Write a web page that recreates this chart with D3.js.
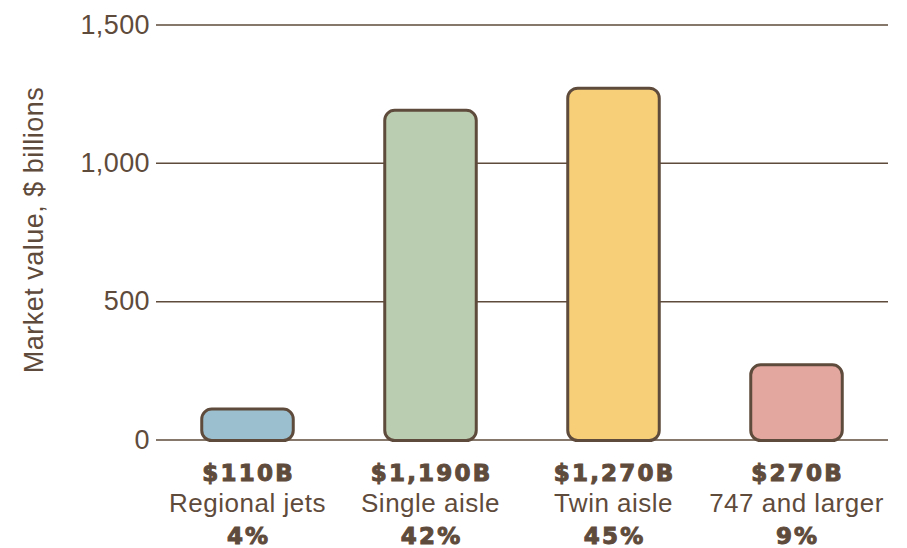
<!DOCTYPE html>
<html>
<head>
<meta charset="utf-8">
<script src="https://cdn.jsdelivr.net/npm/d3@7"></script>
<style>
  body { margin: 0; background: #fff; }
  svg { display: block; font-family: "Liberation Sans", Arial, Helvetica, sans-serif; }
</style>
</head>
<body>
<svg id="chart"></svg>
<script>
// chart data
const categories = ["Regional jets", "Single aisle", "Twin aisle", "747 and larger"];
const values = [110, 1190, 1270, 270];
const valueLabels = ["$110B", "$1,190B", "$1,270B", "$270B"];
const shares = ["4%", "42%", "45%", "9%"];
const colors = ["#9bbfcf", "#bbcdb0", "#f7cf79", "#e3a7a0"];
const yTicks = [0, 500, 1000, 1500];

const ink = "#5f4b3b";

document.addEventListener("DOMContentLoaded", function () {
  drawChart();
});

function drawChart() {
  const w = 907;
  const h = 548;
  const left = 156, right = 888, top = 24.5, bottom = 439.5;

  const svg = d3.select("#chart").attr("width", w).attr("height", h);

  const x = d3.scaleBand()
    .domain(categories)
    .range([left, right])
    .paddingInner(0.5)
    .paddingOuter(0.25);

  const y = d3.scaleLinear().domain([0, 1500]).range([bottom, top]);

  // gridlines + tick labels
  const yAxis = d3.axisLeft(y)
    .tickValues(yTicks)
    .tickSize(-(right - left))
    .tickPadding(6)
    .tickFormat(d3.format(","));

  const g = svg.append("g")
    .attr("transform", "translate(" + left + ",0)")
    .call(yAxis);
  g.select(".domain").remove();
  g.selectAll(".tick line").attr("stroke", ink).attr("stroke-width", 1.5);
  g.selectAll(".tick text")
    .attr("fill", ink)
    .attr("font-size", 27)
    .attr("letter-spacing", 0.4)
    .attr("font-family", "Liberation Sans, Arial, sans-serif");

  // axis title
  svg.append("text")
    .attr("transform", "translate(43," + 230 + ") rotate(-90)")
    .attr("text-anchor", "middle")
    .attr("fill", ink)
    .attr("font-size", 27)
    .attr("letter-spacing", 0.5)
    .text("Market value, $ billions");

  // bars (rounded)
  svg.selectAll("rect.bar")
    .data(values)
    .enter()
    .append("rect")
    .attr("class", "bar")
    .attr("x", (d, i) => x(categories[i]))
    .attr("y", (d) => y(d))
    .attr("width", x.bandwidth())
    .attr("height", (d) => y(0) - y(d) + 1)
    .attr("rx", 10)
    .attr("fill", (d, i) => colors[i])
    .attr("stroke", ink)
    .attr("stroke-width", 3);

  // labels under bars
  const lab = svg.selectAll("g.lab")
    .data(categories)
    .enter()
    .append("g")
    .attr("class", "lab")
    .attr("transform", (d) => "translate(" + (x(d) + x.bandwidth() / 2) + ",0)")
    .attr("text-anchor", "middle")
    .attr("fill", ink);

  // heavy labels: bold with a thin outline to get the black weight
  lab.append("text")
    .attr("y", 481)
    .attr("font-size", 23)
    .attr("font-family", "DejaVu Sans, sans-serif")
    .attr("font-weight", "bold")
    .attr("letter-spacing", 2.2)
    .attr("dx", 1.1)
    .attr("stroke", ink)
    .attr("stroke-width", 1)
    .text((d, i) => valueLabels[i]);
  lab.append("text")
    .attr("y", 512)
    .attr("font-size", 26)
    .attr("letter-spacing", 0.5)
    .text((d) => d);
  lab.append("text")
    .attr("y", 544)
    .attr("font-size", 23)
    .attr("font-family", "DejaVu Sans, sans-serif")
    .attr("font-weight", "bold")
    .attr("letter-spacing", 2.2)
    .attr("dx", 1.1)
    .attr("stroke", ink)
    .attr("stroke-width", 1)
    .text((d, i) => shares[i]);
}
</script>
</body>
</html>
